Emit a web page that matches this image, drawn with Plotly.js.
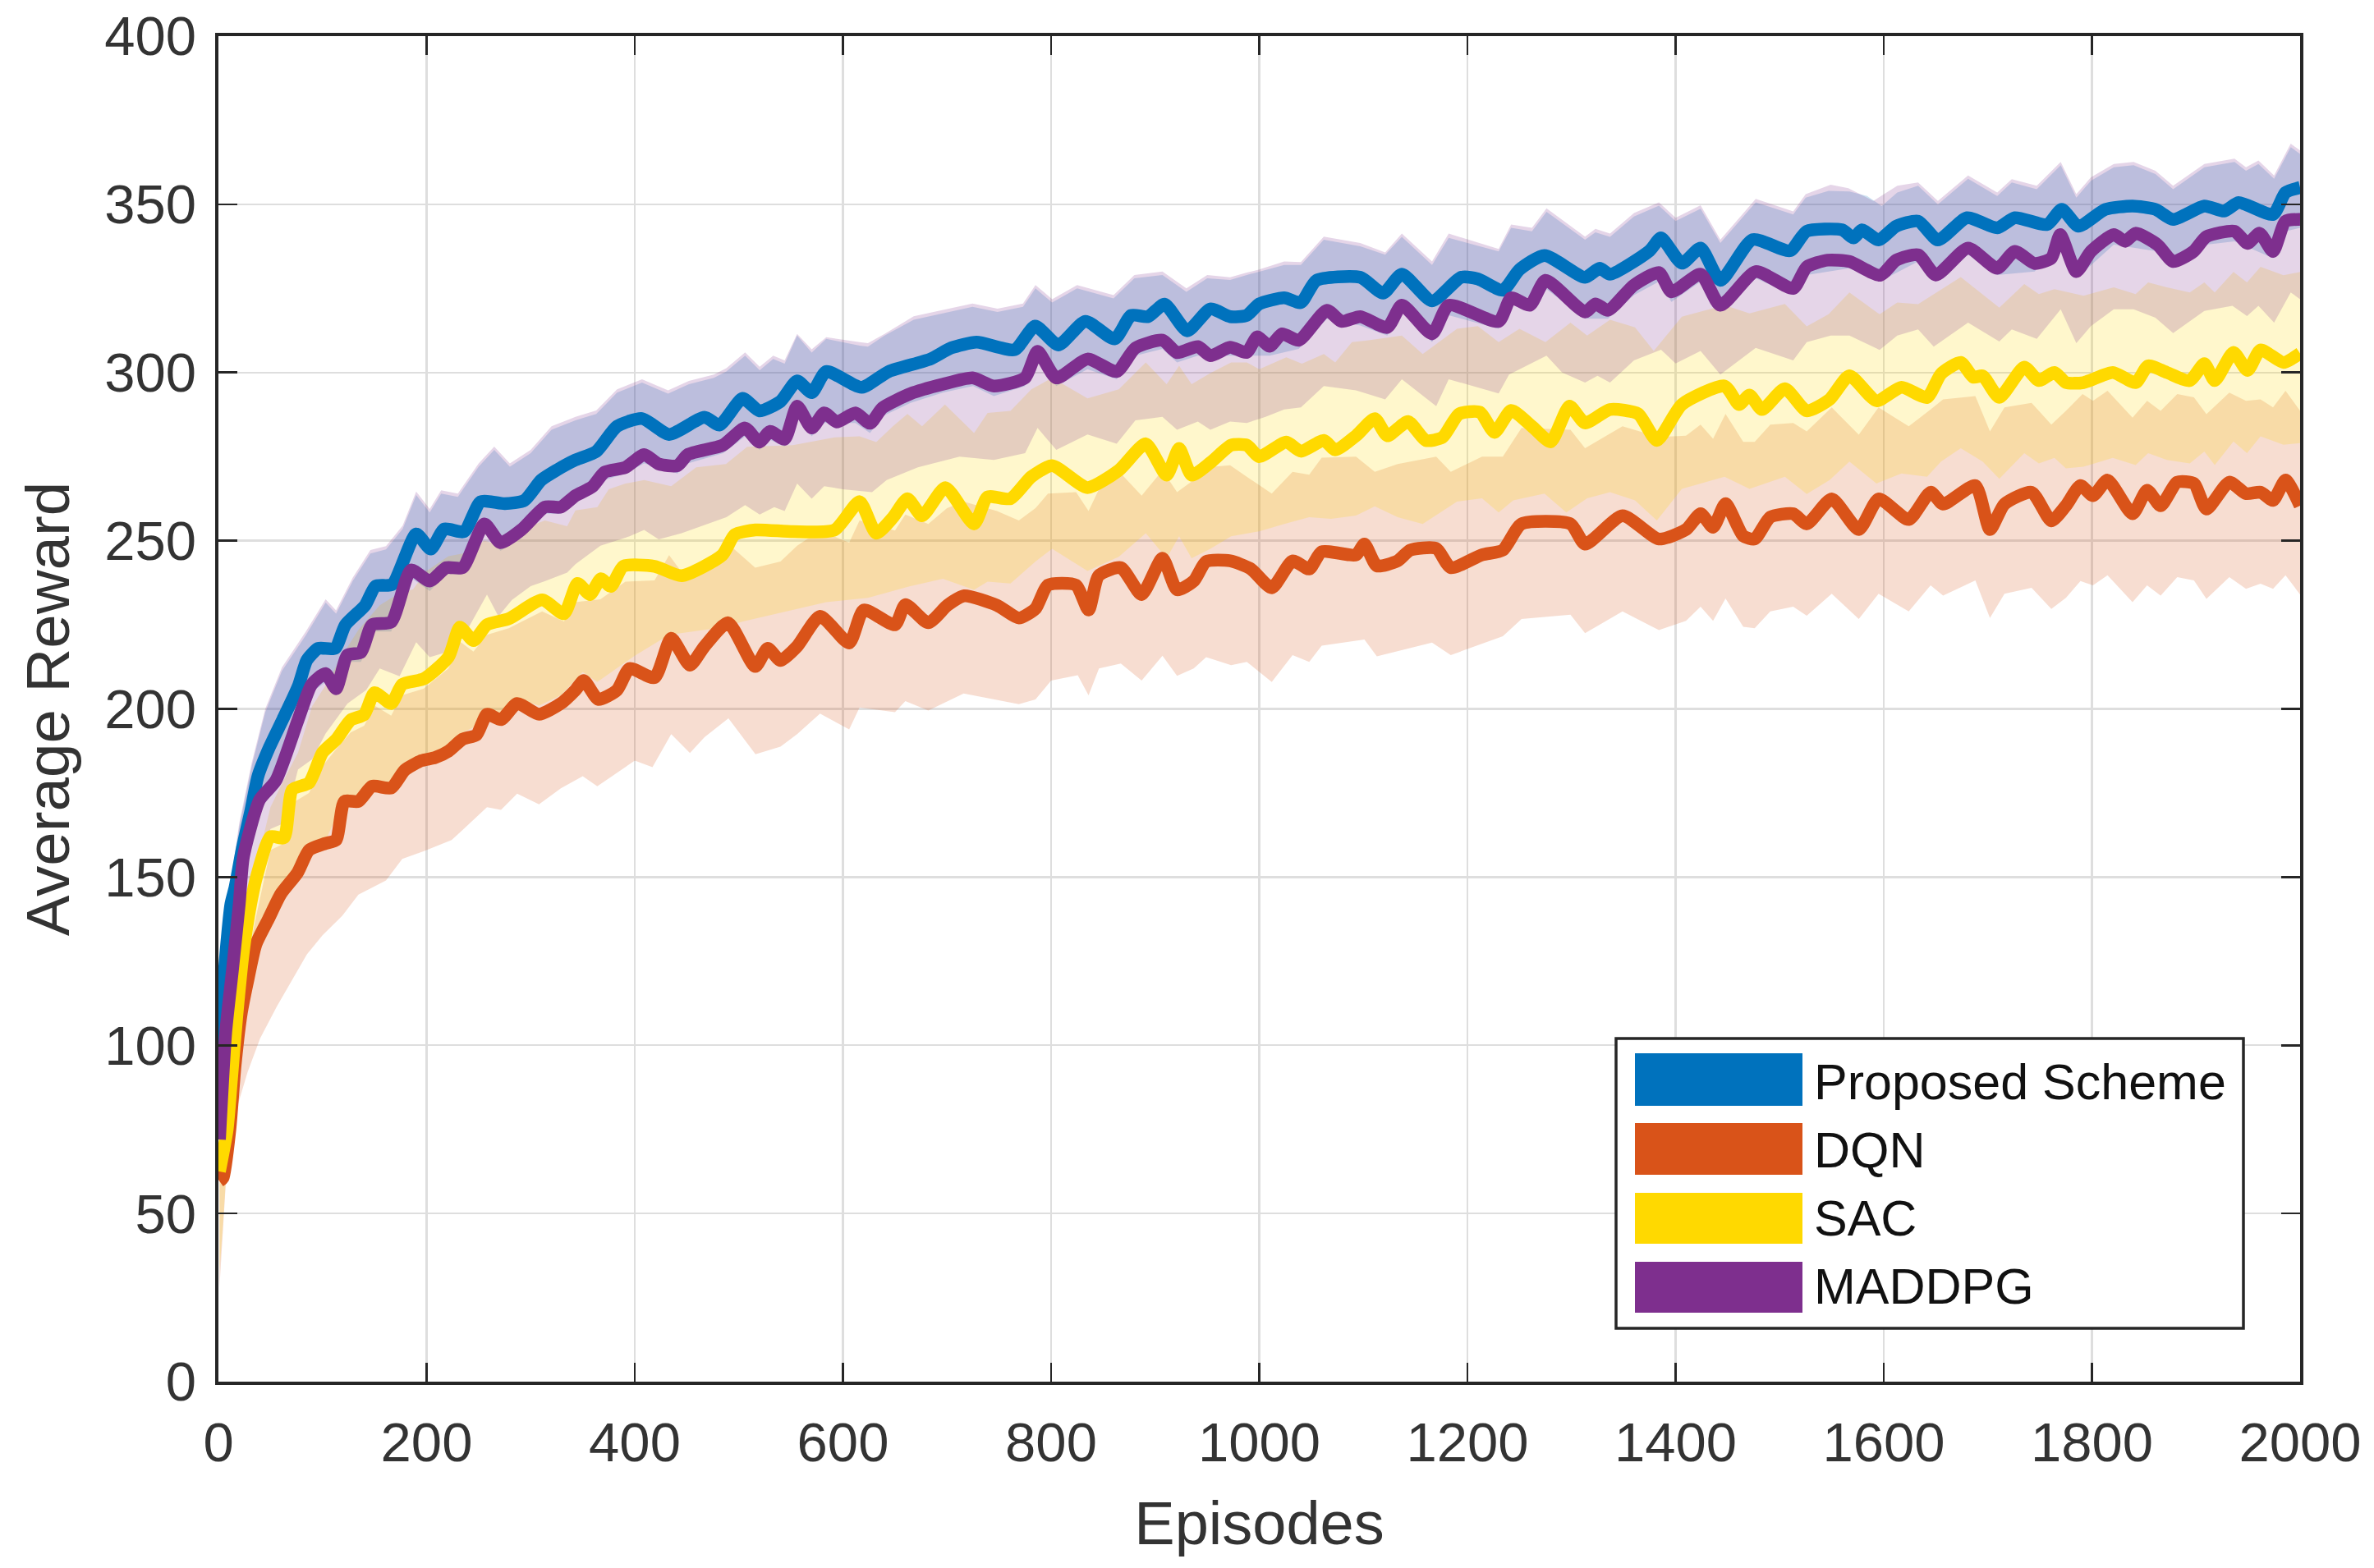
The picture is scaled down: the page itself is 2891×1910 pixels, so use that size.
<!DOCTYPE html>
<html>
<head>
<meta charset="utf-8">
<script src="https://cdn.plot.ly/plotly-3.0.1.min.js"></script>
<style>html,body{margin:0;padding:0;background:#fff}</style>
</head>
<body>
<div id="chart" style="width:2891px;height:1910px"></div>
<script>
const proposedMean = [[1,92],[6,123],[12,142],[16,147],[23,158.6],[31,169.5],[38,180],[49,188.6],[62,197],[77,207],[85,214.5],[96,218],[112,218],[122,225],[141,230.8],[151,236.5],[167,237],[190,252],[204,247.5],[217,253.5],[236,252.7],[252,261.6],[275,261],[294,262],[310,268],[325,271],[343,274],[363,276.5],[383,284],[407,286.3],[433,281.6],[467,286.7],[481.5,284.4],[503.6,292.3],[519.6,288.6],[540,291.4],[556,297.5],[570,294],[584,300.3],[618,295.6],[644,300.3],[684,304],[704,307.3],[728.5,309],[765,306.8],[784.7,313.8],[807,308.2],[833,315.2],[861,310],[877,317],[893,316.6],[909,320.3],[930.8,312.4],[953,318.9],[972,316.6],[988,317],[1000,320.4],[1024,322.2],[1040,320.8],[1055,327.4],[1097,328.3],[1119,323.6],[1137,329.2],[1166,321.3],[1194,328.3],[1210,327.8],[1234,324.5],[1250,330.6],[1274,334.8],[1313,328.3],[1327,331],[1337,329.2],[1375,336.2],[1386,340],[1406,332.5],[1424,337],[1443,327.4],[1474,339.5],[1510,336.2],[1526,342],[1560,342.4],[1571,340],[1579,342.4],[1595,339.4],[1612,343.5],[1633,345],[1652,339.4],[1680,346],[1709,343],[1726,346],[1757,344],[1771,348.5],[1787,343.5],[1813,348.5],[1839,349.5],[1861,348.5],[1878,345.5],[1908,349.5],[1927,348],[1941,350.5],[1974,347],[1986,353.5],[2000,355]];

const dqnMean = [[1,59.6],[4.5,60.6],[11,75],[16,94],[22,109.6],[28,119],[36,130],[48,137.5],[60,145],[76,151.3],[87,158],[102.8,160],[113,161],[121,172.5],[134.5,172.5],[147.6,177],[166,176.5],[179,181.8],[195,184.6],[208,185.5],[221.4,187.5],[234.6,191],[248,192.3],[258,198.4],[271.5,196.8],[287,201.6],[308,198.4],[329,201.6],[343,205.6],[351,208.4],[365,202.8],[383,205.6],[395,212],[419,209.3],[435,221],[453,213],[467,218.6],[489.6,225.6],[515.7,212.6],[527.7,218],[540,214.4],[556,218.6],[578,227.5],[606,219.6],[620,229.4],[650,225],[660,231],[682,225.6],[700.4,230.8],[716.5,233.6],[748,230.8],[769,227],[785,229.8],[797,236.8],[823.7,236.8],[836,229.4],[845.7,239.6],[867,242],[887,234],[907,244.8],[921,235.4],[937,238],[949,243.8],[972,244],[992,241.6],[1012,236],[1032,244],[1048,241.6],[1060,246.7],[1093,245.8],[1101,249],[1113,242.5],[1133,244],[1145,247.2],[1170,247.7],[1184,242],[1214,245.8],[1234,247.2],[1252,255],[1299,255],[1313,249],[1349,257.4],[1384,250.5],[1410,253.3],[1424,258],[1436,254],[1448,261],[1465,251.4],[1476,250.5],[1491,257],[1513,258],[1526,255],[1550,262.4],[1576,253.3],[1595,262.4],[1624,256.3],[1645,264.4],[1657,260.9],[1688,266.4],[1702,253.3],[1716,260.9],[1742,264.4],[1761,255.9],[1775,260.4],[1789,266.4],[1801,263.4],[1815,268],[1839,258],[1853,265],[1866,260.4],[1882,267.4],[1898,267],[1910,259.4],[1932,267.4],[1948,264],[1962,264.4],[1974,262],[1986,268],[2000,260.4]];

const sacMean = [[1,62.5],[8.4,75],[12.4,89.4],[17.6,108.6],[24,128],[31,142],[37,150.5],[50,162],[63,161.7],[71,176],[87,178],[100,187],[113.5,191],[127,196.7],[140,198.3],[150,204.8],[166,201.6],[176.6,207.3],[197.7,209],[221,215.4],[232,224.3],[245,220.3],[258,225],[279,226.8],[311,232.4],[332,228.3],[345,237.3],[357,234],[367.5,238.7],[377,236.4],[389,242.4],[419,242.4],[445,239.6],[484,245.7],[496,251.8],[516,253.2],[552,252.7],[592,253.2],[616,261.6],[632,252.2],[648,256.9],[662,262.5],[676,257.4],[698.4,265.8],[726,255],[739,263],[761,262.5],[781,269],[801,272.3],[835,265.8],[865,270.9],[891,278.8],[911,269.5],[923,277.4],[935,269.5],[953,273.2],[973,278.4],[988,278.4],[1000,275],[1026,279.3],[1040,276.6],[1062,279.8],[1073,277],[1093,281.2],[1111,286.3],[1123,281.2],[1143,285.4],[1160,279.8],[1176,280.7],[1192,287.7],[1212,288.2],[1226,282.2],[1242,288.7],[1262,284],[1280,279.4],[1298,290],[1313,285],[1337,289],[1364,287.7],[1382,279.8],[1406,290.5],[1447,296],[1461,290.5],[1471,293.3],[1483,289],[1505,295.2],[1526,288.6],[1548,292],[1567,299],[1593,291.6],[1617,295.6],[1641.6,292.6],[1655,299.6],[1674,303],[1686,298.6],[1695,299],[1711,292.6],[1735,301.6],[1749,297.6],[1764,300],[1775,297],[1792,297],[1820,300],[1842,297],[1854,302],[1872,300],[1894,297.6],[1908,302.6],[1918,297.6],[1936,306],[1949.5,300.6],[1962,306.7],[1984,303],[2000,305.7]];

const maddpgMean = [[1,72],[7,103.8],[13.7,123],[20,142],[24,156],[39.6,173],[55,178.6],[76.5,196.7],[89.6,207.3],[102.8,210.5],[113,206],[124,216],[137,216.8],[147.6,225],[166,225.8],[185,241.3],[203,238],[219,242],[234.6,242],[255.6,255],[271,249.4],[292,253.5],[313.6,260],[329,260],[343,263.4],[359,266],[371,270.4],[391,271.8],[409,275.6],[423,272.8],[441,272.3],[451,275.6],[484.6,278.4],[506,283.5],[519.6,279.3],[530,282.5],[544,280.2],[556,290],[570,283.5],[582,288],[594,285.3],[612,288],[626,284.9],[638,289.5],[665,293.7],[696,296.5],[724.5,298.4],[745,296],[775,298.4],[787,306.3],[805,298.4],[835,304],[863,300.3],[881,307.3],[907,309.6],[921,305.9],[941,307.7],[953,305],[972,307.5],[988,306],[998,310.6],[1010,307.8],[1022,311.5],[1038,309.6],[1065,318.5],[1079,315.2],[1097,316.6],[1123,313.4],[1137,320],[1166,311.5],[1182,320],[1230,315.2],[1242,322.2],[1260,320],[1275,327.4],[1313,318],[1323,320.4],[1335,318.5],[1360,326],[1384,329.7],[1396,324],[1424,329.2],[1443,320],[1477,330],[1513,325],[1526,331.4],[1546,333.4],[1567,333],[1596.5,328.9],[1612,333.4],[1633,335],[1650,329],[1681,337],[1709,331],[1726,336],[1745,332.4],[1761,334],[1769.5,341],[1785,330],[1799,336],[1821,341],[1832,339],[1842,341.4],[1863,338],[1878,333],[1897.6,336],[1910,340.4],[1937,342],[1949.5,338.4],[1961,341.4],[1974,336],[1986,345],[2000,345.5]];

const proposedUpper = [[1,92],[6,128],[12,148],[20,165],[32,183],[45,199],[61,211.3],[84,221.9],[103,231.6],[113,228.3],[129,238],[146,246.2],[161,247.4],[177,253.5],[190,263.6],[203,258.4],[214,264],[230,263],[250,272],[265,277],[280,272],[300,276],[320,283],[343,285.8],[363,287.7],[383,294],[407,297],[432,293.7],[452,296.5],[476,298.4],[488,300.3],[506,305],[520,300.7],[533,304],[544,302.6],[556,311],[570,305.9],[584,310],[616,308],[624,307.7],[640,311],[668,315.7],[724.5,319.5],[748.5,318],[773,319.5],[785,325],[801,320.8],[825,325],[860,322],[880,328],[907,329],[930,324],[950,328],[972,327.5],[988,329],[1000,330],[1024,332],[1040,332],[1062,339.5],[1097,337.5],[1121,335],[1137,340.3],[1166,332],[1182,340],[1230,336],[1242,343],[1262,342],[1276,347.8],[1313,339.5],[1323,341.7],[1337,340.3],[1360,346.4],[1384,349.6],[1400,345],[1424,348.7],[1443,338.5],[1477,350.6],[1513,347],[1525,352],[1547,354],[1567,353.8],[1584,352.5],[1598,349.5],[1613,353.5],[1633,355.5],[1652,350],[1681,357.6],[1709,352.5],[1723,356.5],[1747,354.5],[1770,361.6],[1785,352],[1799,357],[1821,361],[1840,361.6],[1861,359],[1878,354.5],[1908,361],[1937,362.6],[1948,360],[1960,362],[1975,357.6],[1991,367],[2000,365]];

const proposedLower = [[1,70],[7,101],[14,121],[20,139],[24,153],[40,171],[55,176],[76,194],[90,205],[103,208],[113,204],[124,214],[137,214],[148,223],[166,223],[185,239],[203,235],[219,240],[235,240],[256,253],[271,247],[292,251],[314,258],[329,258],[343,261],[371,268],[391,270],[409,273],[441,270],[451,273],[485,276],[506,281],[520,277],[530,280],[544,278],[556,287],[570,281],[582,285],[612,285],[626,282],[638,287],[665,291],[696,294],[725,296],[745,293],[775,296],[787,304],[805,296],[835,301],[863,298],[881,305],[907,307],[921,303],[941,305],[972,305],[1010,305],[1038,307],[1065,316],[1097,314],[1123,311],[1137,318],[1166,309],[1182,317],[1230,313],[1242,320],[1275,325],[1313,316],[1335,316],[1360,323],[1384,327],[1396,321],[1424,327],[1443,318],[1477,328],[1513,323],[1526,329],[1567,331],[1596,327],[1633,333],[1650,327],[1681,335],[1709,329],[1745,330],[1769,338],[1785,328],[1821,338],[1863,336],[1878,331],[1910,338],[1937,339],[1974,334],[1986,342],[2000,343]];

const dqnUpper = [[1,60],[5,68],[11,80],[16,98],[22,115],[28,126],[36,138],[50,158],[63,160],[71,172],[87,175],[100,183],[113,188],[127,193],[140,195],[150,201],[166,198],[176,204],[197,206],[221,212],[232,220],[245,217],[258,222],[279,224],[311,229],[332,226],[343,231.7],[367,232.6],[391,237.8],[419,238.2],[433,245.7],[451,238.2],[467,241],[490,249],[515.7,242],[540,243.8],[556,248.5],[578,253],[606,249.4],[616,256],[650,253],[660,257.8],[682,255],[700,259.7],[716,261.6],[748,258.8],[769,256],[785,259.7],[797,264],[824,264.4],[836,258.8],[846,265.3],[867,270],[887,263.4],[907,270.9],[921,264.4],[937,268],[949,271.8],[972,272.4],[988,269],[1012,264],[1032,270.5],[1048,269.6],[1060,274.7],[1093,275],[1111,270.5],[1133,272.8],[1170,275],[1184,270.5],[1214,275],[1234,275],[1252,283.5],[1299,283],[1313,277.5],[1349,284],[1384,280.8],[1410,281.2],[1424,284.5],[1436,280.3],[1448,287.7],[1465,279.4],[1476,279.4],[1491,284.5],[1513,285],[1526,282.5],[1550,289.6],[1576,281.5],[1595,289.6],[1624,284],[1645,289],[1657,292],[1688,293],[1702,282.5],[1716,289.6],[1742,291],[1761,284.5],[1775,288.6],[1791,293.6],[1801,291.6],[1815,294.6],[1839,286.6],[1853,291.6],[1866,288.6],[1882,293.6],[1898,292.6],[1910,287.6],[1932,294],[1948,291.6],[1962,292],[1974,289.6],[1986,294.6],[2000,288.6]];

const dqnLower = [[1,28],[3,36.5],[7,58.6],[14,75],[19,82.7],[28,92],[40,102],[56,111.5],[72,120],[85,127],[100,132.7],[119,138.5],[134.5,144.8],[161,149],[176.6,155.4],[198,157.8],[224,161],[234.6,164],[258,170.8],[271.5,170],[287,174.8],[308,171.6],[329,176.4],[350,180],[364,177],[400,184.6],[417,182.7],[435,192.5],[453,186.9],[467,191.6],[490,197.2],[516,186.5],[540,188.8],[556,192.5],[578,198.6],[606,193.9],[616,200.4],[650,199],[660,202.3],[682,199.5],[716,204.6],[769,201.4],[785,202.8],[800,208.4],[825.6,210],[836,204],[846,212],[867,213.5],[887,208.4],[907,215.8],[921,209.8],[937,212],[949,215.4],[973,213],[988,214],[1012,208],[1032,216],[1048,214],[1060,218.8],[1080,219.7],[1101,220.6],[1113,215.6],[1166,219.7],[1184,216],[1234,221.6],[1252,226.7],[1299,228],[1313,222.5],[1349,229],[1384,223.4],[1410,226.2],[1424,230.4],[1436,226.2],[1448,232.8],[1465,224.4],[1476,224],[1491,229],[1513,230.4],[1526,227.7],[1550,234.2],[1576,226.7],[1595,234.2],[1624,229],[1645,236.7],[1657,233.7],[1688,238.2],[1702,227],[1716,234.2],[1742,236],[1761,229.7],[1775,233],[1789,238],[1801,236.7],[1815,239.7],[1839,231.7],[1853,236.7],[1866,233.7],[1882,239.2],[1898,238.2],[1910,232.7],[1932,239.2],[1948,235.7],[1962,237.2],[1974,235.7],[1986,239.7],[2000,234]];

const sacUpper = [[1,63],[8,80],[13,96],[18,115],[25,133],[32,148],[40,158],[50,170.8],[63,179],[76.5,187],[90,200.8],[103,207],[119,216],[134.5,223.5],[155,230.8],[171.6,234],[187,235.6],[200,241],[221,245.4],[234.6,246.2],[255.6,250],[271,248.6],[292,253.5],[313.6,256],[335,254.3],[343,259],[364,260],[375,265.3],[391,267],[409,268],[435,266.2],[459,271.8],[487.6,272.8],[508,277.9],[552,278.4],[592,280.7],[616,281],[632,279.3],[648,284],[662,287.7],[676,284],[698,290.5],[726,282],[739,288],[761,288.6],[781,295],[801,298.4],[835,292.3],[865,295],[891,303],[911,296.5],[923,302],[935,296.5],[953,299.8],[973,303],[988,303],[1000,301],[1026,304.5],[1041,302.6],[1062,305.5],[1073,303],[1089,309],[1105,309.6],[1137,311],[1157,305.5],[1190,313],[1210,313.8],[1230,309],[1250,313],[1275,309],[1299,314.8],[1315,311],[1337,315.7],[1361,313.4],[1379,306.4],[1406,316.6],[1447,320],[1471,317.6],[1505,320.4],[1526,313.7],[1547,317.3],[1567,323.8],[1596,317.3],[1613,320.8],[1633,320.3],[1674,328.4],[1711,319.3],[1735,326.3],[1749,323.3],[1764,324.8],[1792,322.8],[1821,325.3],[1842,323.3],[1854,326.8],[1872,325.3],[1894,323.8],[1908,326.8],[1918,323.8],[1936,329.9],[1949,326.8],[1962,331.4],[1984,328.9],[2000,329.9]];

const sacLower = [[1,33],[4,45],[8,64],[12,78],[17,96],[23,111],[29,121],[37,132],[48,140],[60,146],[76,152],[87,158],[103,161],[121,173],[134,173],[148,178],[166,177],[179,182],[195,185],[208,186],[221,188],[235,193],[248,195],[258,200],[271,198],[287,203],[308,201],[329,204],[350,211],[364,208],[400,215.8],[433,222],[484,224.2],[504,226],[584,231.7],[624,233],[664,236.4],[696,238.7],[726,235.4],[739,237.8],[761,237.3],[785,243.8],[801,247.6],[835,241],[865,245.2],[891,252.2],[911,244.8],[923,251.3],[935,244.8],[953,247.6],[973,251.3],[1000,252.8],[1024,255],[1048,257],[1069,256.5],[1093,257.5],[1111,260.2],[1133,257],[1157,255],[1190,261.6],[1214,262.6],[1230,258.4],[1244,262],[1274,264],[1295,258.4],[1315,262.6],[1337,264.4],[1361,262],[1382,256],[1406,265.4],[1447,269],[1471,265.4],[1505,269],[1526,263.9],[1548,268],[1567,273.5],[1593,267],[1617,270],[1641.6,269],[1655,273.5],[1674,277.5],[1695,273.5],[1711,268.4],[1735,276],[1749,273],[1764,274.6],[1775,271.5],[1792,272],[1820,274.6],[1842,272.5],[1854,276],[1872,274],[1894,273],[1908,276.5],[1918,272.5],[1936,279.5],[1949,276],[1962,281],[1984,278.5],[2000,279]];

const maddpgUpper = [[1,93],[6,129],[12,149],[20,166],[32,184],[45,200],[61,212.3],[84,223],[103,232.6],[113,229.3],[129,239],[146,247.2],[161,248.4],[177,254.5],[190,264.6],[203,259.4],[214,265],[230,264],[250,273],[265,278],[280,273],[300,277],[320,284],[343,286.8],[363,288.7],[383,295],[407,298],[432,294.7],[452,297.5],[476,299.4],[488,301.3],[506,306],[520,301.7],[533,305],[544,303.6],[556,311.5],[570,306.9],[584,310.5],[616,309],[624,308.7],[640,311.5],[668,316.7],[724.5,320.5],[748.5,319],[773,320.5],[785,326],[801,321.8],[825,326],[860,323],[880,329],[907,330],[930,325],[950,329],[972,328.3],[988,329.7],[1000,330.6],[1024,333],[1040,332.8],[1062,340.4],[1097,338.5],[1121,335.7],[1137,341.3],[1166,333],[1182,341.3],[1230,336.7],[1242,344],[1262,343],[1276,348.8],[1313,340.4],[1323,342.7],[1337,341.3],[1360,347.4],[1384,350.6],[1400,346],[1424,349.7],[1443,339.5],[1477,351.6],[1513,347.9],[1525,353],[1549,355.8],[1566,354.8],[1590,351],[1613,355.5],[1633,356.5],[1652,351],[1681,358.6],[1709,353.5],[1723,357.5],[1747,355.5],[1770,362.6],[1785,353],[1799,358],[1821,362],[1840,362.6],[1861,360],[1878,355.5],[1908,362],[1937,363.6],[1948,361],[1960,363],[1975,358.6],[1991,368],[2000,366]];

const maddpgLower = [[1,62],[6,80],[12,95],[18,114],[25,133],[32,147],[40,155],[50,164.3],[63,166],[76.5,182],[90,185],[103,192.7],[124,201.6],[142,205.6],[155,212],[174,209.7],[190,219.8],[203,215.4],[221,217],[240,224],[258,234],[269,227.5],[282,232.4],[300,236.5],[314,238],[335,240.5],[343,243],[367,248.5],[395,251.3],[409,253.2],[423,250.4],[445,252.2],[488,257],[506,260.6],[520,257.8],[534,260],[544,258.8],[556,267],[570,262.5],[582,266.2],[600,265.3],[628,264.4],[642,268],[672,271.8],[712,275],[745,274],[775,276],[787,283.5],[805,277],[835,281.6],[863,278.8],[881,285.8],[907,286.8],[921,283],[941,285.4],[953,283],[972,285.4],[988,285],[1006,286.8],[1024,289],[1040,289.6],[1062,296],[1093,294.7],[1121,292],[1137,298],[1170,290],[1182,298],[1230,293.8],[1240,299.4],[1276,305],[1291,300],[1313,297],[1325,299],[1337,297],[1360,303.6],[1386,306.8],[1400,302.7],[1424,306.4],[1443,299.4],[1477,307.3],[1513,303.6],[1526,309],[1549,311],[1567,311],[1596,306.7],[1613,311],[1633,312.8],[1648,307.7],[1681,314.8],[1711,309.2],[1723,312.8],[1747,310],[1770,318.8],[1785,308.7],[1799,313.8],[1821,318.8],[1840,318.8],[1861,316.3],[1878,311.7],[1908,318.3],[1935,319.8],[1949,316.8],[1960,319.8],[1975,314.8],[1991,323.8],[2000,321.8]];

const seriesNames = ['Proposed Scheme','DQN','SAC','MADDPG'];
const seriesColors = ['#0072BD','#D95319','#FFD900','#7E2F8E'];
const bandFills = ['rgba(0,114,189,0.2)','rgba(217,83,25,0.2)','rgba(255,217,0,0.2)','rgba(126,47,142,0.2)'];
const means = [proposedMean,dqnMean,sacMean,maddpgMean];
const uppers = [proposedUpper,dqnUpper,sacUpper,maddpgUpper];
const lowers = [proposedLower,dqnLower,sacLower,maddpgLower];
const xTicks = [0,200,400,600,800,1000,1200,1400,1600,1800,2000];
const yTicks = [0,50,100,150,200,250,300,350,400];

const traces = [];
uppers.forEach((u,i)=>{
  const l = lowers[i].slice().reverse();
  traces.push({type:'scatter',mode:'lines',name:seriesNames[i]+' range',showlegend:false,hoverinfo:'skip',
    x:u.map(p=>p[0]).concat(l.map(p=>p[0])),
    y:u.map(p=>p[1]).concat(l.map(p=>p[1])),
    fill:'toself',fillcolor:bandFills[i],line:{width:0}});
});
means.forEach((m,i)=>{
  traces.push({type:'scatter',mode:'lines',name:seriesNames[i],showlegend:false,cliponaxis:false,
    x:m.map(p=>p[0]),y:m.map(p=>p[1]),line:{color:seriesColors[i],width:15.5,shape:'spline',smoothing:0.6}});
});

const PL=266,PR=2801,PT=44,PB=1683;
const px=v=>(v-PL)/(PR-PL), py=v=>(PB-v)/(PB-PT);
const shapes=[{type:'rect',xref:'paper',yref:'paper',x0:px(1968),x1:px(2732),y0:py(1265),y1:py(1618),
  fillcolor:'#fff',line:{color:'#262626',width:3.5}}];
const swatchRows=[[1283,1347],[1368,1431],[1453,1515],[1537,1599]];
const textRows=[1318,1401,1484,1567];
const annotations=[];
seriesNames.forEach((n,i)=>{
  shapes.push({type:'rect',xref:'paper',yref:'paper',x0:px(1991),x1:px(2195),y0:py(swatchRows[i][0]),y1:py(swatchRows[i][1]),
    fillcolor:seriesColors[i],line:{width:0}});
  annotations.push({xref:'paper',yref:'paper',x:px(2207),y:py(textRows[i]),xanchor:'left',yanchor:'middle',showarrow:false,
    text:n,font:{family:'Liberation Sans',size:61,color:'#111'}});
});

const axisCommon={showgrid:true,gridcolor:'#dedede',gridwidth:2.4,zeroline:false,showline:true,linecolor:'#262626',linewidth:3.6,
  mirror:'allticks',ticks:'inside',ticklen:23,tickwidth:2.6,tickcolor:'#262626',
  tickfont:{family:'Liberation Sans',size:67,color:'#333'}};

Plotly.newPlot('chart',traces,{
  width:2891,height:1910,paper_bgcolor:'#fff',plot_bgcolor:'#fff',showlegend:false,
  margin:{l:PL,r:2891-PR,t:PT,b:1910-PB,pad:0},
  xaxis:Object.assign({},axisCommon,{range:[0,2000],tickmode:'array',tickvals:xTicks,ticktext:xTicks.map(String),tickangle:0,ticklabelstandoff:13,
    title:{text:'Episodes',standoff:37,font:{family:'Liberation Sans',size:74,color:'#333'}},automargin:false}),
  yaxis:Object.assign({},axisCommon,{range:[0,400],tickmode:'array',tickvals:yTicks,ticktext:yTicks.map(String),ticklabelstandoff:10,
    title:{text:'Average Reward',standoff:19,font:{family:'Liberation Sans',size:74.5,color:'#333'}},automargin:false}),
  shapes:shapes,annotations:annotations
},{displayModeBar:false,staticPlot:true});
</script>
</body>
</html>
